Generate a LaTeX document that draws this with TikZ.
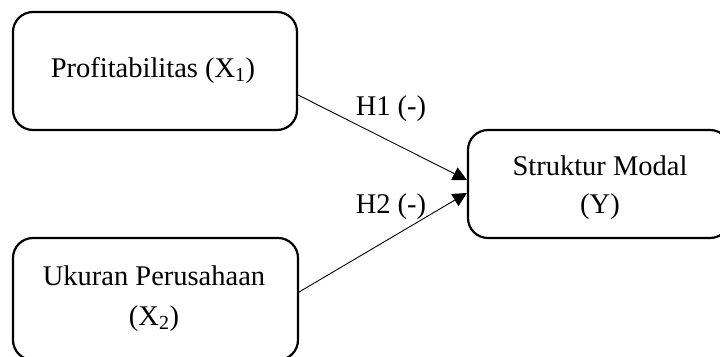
\documentclass[tikz,border=0pt]{standalone}
\usepackage{fontspec}
\setmainfont{Liberation Serif}
\usetikzlibrary{arrows.meta}
\begin{document}
\begin{tikzpicture}[x=1pt,y=-1pt,
  box/.style={draw=black,line width=2.2pt,rounded corners=20pt},
  lbl/.style={anchor=base,inner sep=0pt,font=\fontsize{28.5}{32}\selectfont},
  conn/.style={line width=0.9pt,-{Triangle[length=14pt,width=14pt]}}]
\useasboundingbox (0,0) rectangle (720,356);
\clip (0,0) rectangle (720,356);
\fill[white] (0,0) rectangle (720,356);
\node[box,minimum width=284pt,minimum height=118pt] (b1) at (155,71) {};
\node[box,minimum width=285pt,minimum height=122pt] (b2) at (155.5,299) {};
\node[box,minimum width=262pt,minimum height=108pt] (b3) at (599,184) {};
\node[lbl] (t1) at (153,77) {Profitabilitas (X\textsubscript{1})};
\node[lbl] (t2a) at (154,285) {Ukuran Perusahaan};
\node[lbl] (t2b) at (154,325) {(X\textsubscript{2})};
\node[lbl] (t3a) at (600,175) {Struktur Modal};
\node[lbl] (t3b) at (600,213) {(Y)};
\node[lbl] (h1) at (391,115) {H1 (-)};
\node[lbl] (h2) at (391,213) {H2 (-)};
\coordinate (s1) at (b1.east |- 0,95);
\coordinate (e1) at (b3.west |- 0,180);
\coordinate (s2) at (b2.east |- 0,292);
\coordinate (e2) at (b3.west |- 0,193);
\draw[conn] (s1) -- (e1);
\draw[conn] (s2) -- (e2);
\end{tikzpicture}
\end{document}
